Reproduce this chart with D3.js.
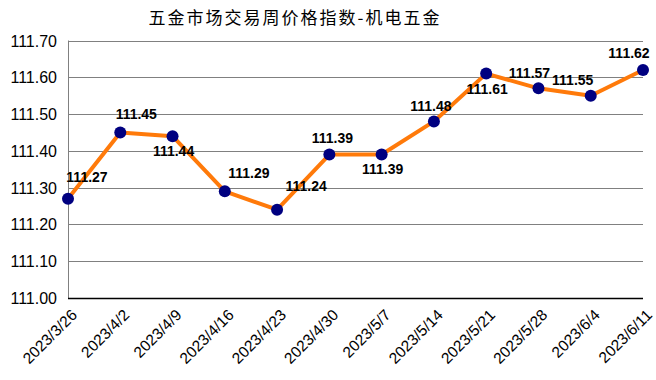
<!DOCTYPE html>
<html>
<head>
<meta charset="utf-8">
<script src="https://cdn.jsdelivr.net/npm/d3@7"></script>
<style>
  html, body { margin: 0; padding: 0; background: #fff; }
  svg { display: block; }
</style>
</head>
<body>
<svg id="chart" width="656" height="380"></svg>
<script>
const title = "五金市场交易周价格指数-机电五金";
const categories = ["2023/3/26","2023/4/2","2023/4/9","2023/4/16","2023/4/23","2023/4/30","2023/5/7","2023/5/14","2023/5/21","2023/5/28","2023/6/4","2023/6/11"];
const values = [111.27, 111.45, 111.44, 111.29, 111.24, 111.39, 111.39, 111.48, 111.61, 111.57, 111.55, 111.62];
const yTicks = [111.00, 111.10, 111.20, 111.30, 111.40, 111.50, 111.60, 111.70];
// label placement relative to each point (dx, dy of text baseline center)
const labelOffsets = [[19,-17],[16,-13],[1,20],[24,-13],[29,-19],[3,-12],[1,19],[-3,-10],[1,20],[-9,-10],[-18,-11],[-14,-12]];

const svg = d3.select("#chart");
const m = { left: 68, right: 643, top: 40.5, bottom: 298 };

const x = d3.scalePoint().domain(categories).range([m.left, m.right]);
const y = d3.scaleLinear().domain([111.0, 111.7]).range([m.bottom, m.top]);

// gridlines
svg.append("g").selectAll("line").data(yTicks.slice(1)).join("line")
  .attr("x1", m.left).attr("x2", m.right)
  .attr("y1", d => Math.round(y(d)) + 0.5).attr("y2", d => Math.round(y(d)) + 0.5)
  .attr("stroke", "#808080").attr("stroke-width", 1);

// left axis line
svg.append("line").attr("x1", m.left + 0.5).attr("x2", m.left + 0.5)
  .attr("y1", m.top).attr("y2", m.bottom).attr("stroke", "#808080");

// bottom axis
svg.append("line").attr("x1", m.left).attr("x2", m.right)
  .attr("y1", m.bottom + 0.5).attr("y2", m.bottom + 0.5).attr("stroke", "#000").attr("stroke-width", 1.5);

// y tick labels
svg.append("g").selectAll("text").data(yTicks).join("text")
  .attr("x", 57).attr("y", d => y(d) + 6)
  .attr("text-anchor", "end")
  .attr("font-family", "Arial, 'Liberation Sans', sans-serif")
  .attr("font-size", 16)
  .attr("fill", "#000")
  .text(d => d3.format(".2f")(d));

// x tick labels
svg.append("g").selectAll("text").data(categories).join("text")
  .attr("transform", d => `translate(${x(d) + 10},${m.bottom + 18}) rotate(-45)`)
  .attr("text-anchor", "end")
  .attr("font-family", "Arial, 'Liberation Sans', sans-serif")
  .attr("font-size", 15.5)
  .attr("fill", "#000")
  .text(d => d);

// line
const line = d3.line().x((d, i) => x(categories[i])).y(d => y(d));
svg.append("path").datum(values)
  .attr("d", line)
  .attr("fill", "none")
  .attr("stroke", "#FF7A0A")
  .attr("stroke-width", 4)
  .attr("stroke-linejoin", "round");

// markers
svg.append("g").selectAll("circle").data(values).join("circle")
  .attr("cx", (d, i) => x(categories[i]))
  .attr("cy", d => y(d))
  .attr("r", 6)
  .attr("fill", "#000080");

// data labels
svg.append("g").selectAll("text").data(values).join("text")
  .attr("x", (d, i) => x(categories[i]) + labelOffsets[i][0])
  .attr("y", (d, i) => y(d) + labelOffsets[i][1])
  .attr("text-anchor", "middle")
  .attr("font-family", "Arial, 'Liberation Sans', sans-serif")
  .attr("font-size", 14)
  .attr("font-weight", "bold")
  .attr("fill", "#000")
  .text(d => d3.format(".2f")(d));

// title
svg.append("text")
  .attr("x", 295).attr("y", 24)
  .attr("text-anchor", "middle")
  .attr("font-family", "'Noto Sans CJK SC', sans-serif")
  .attr("font-size", 17)
  .attr("letter-spacing", "2px")
  .attr("fill", "#000")
  .text(title);
</script>
</body>
</html>
